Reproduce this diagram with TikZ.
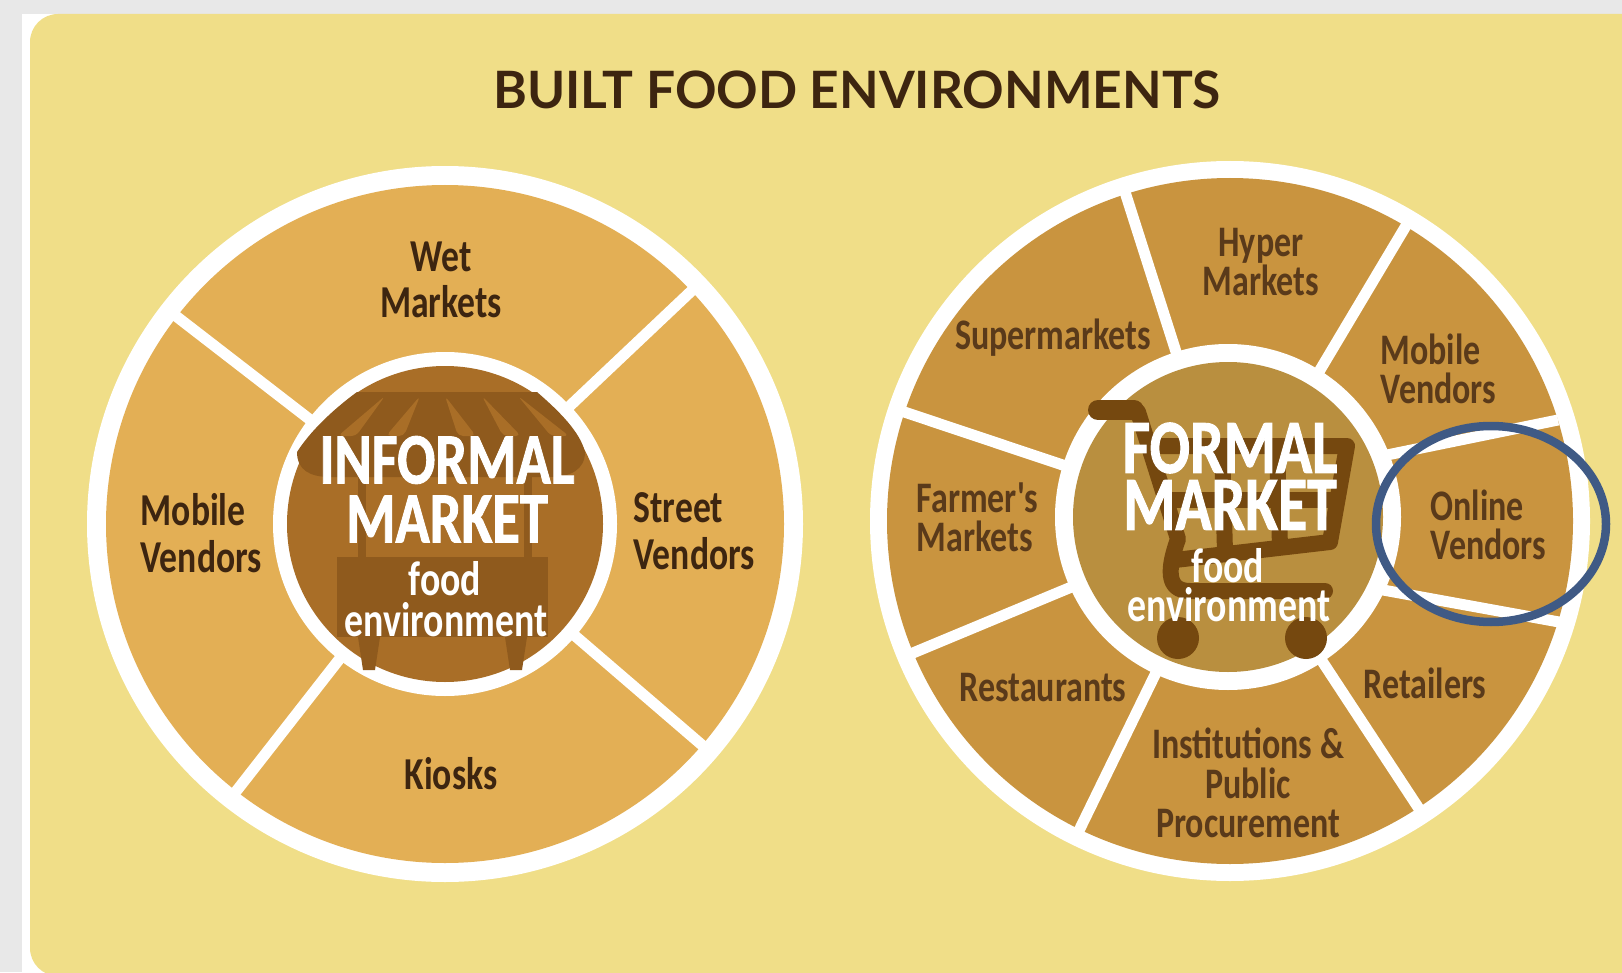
\documentclass[tikz,border=0pt]{standalone}
\usepackage{fontspec}
\usetikzlibrary{calc}
\newfontfamily\labelfont{Carlito}[FakeStretch=0.78]
\newfontfamily\bigfont{Carlito}[FakeStretch=0.78,BoldFeatures={FakeStretch=0.78,FakeBold=1.2}]
\newfontfamily\titlefont{Lato}
\definecolor{pagegray}{HTML}{E8E8E8}
\definecolor{panelyellow}{HTML}{F0DE88}
\definecolor{wedgeleft}{HTML}{E3AF55}
\definecolor{wedgeright}{HTML}{C9943F}
\definecolor{hubleft}{HTML}{A96E27}
\definecolor{stall}{HTML}{8F5A1D}
\definecolor{hubright}{HTML}{B98F3F}
\definecolor{cart}{HTML}{75480F}
\definecolor{inkleft}{HTML}{3D2510}
\definecolor{inkright}{HTML}{5A3A1A}
\definecolor{ringblue}{HTML}{3F5A85}
\tikzset{
    divider/.style={white, line width=0.11cm},
    cartbar/.style={cart, line width=0.16cm, line join=round},
    tongue/.style={hubleft, rounded corners=0.05cm},
    lefttext/.style={inkleft, align=center, inner sep=0pt, font=\labelfont\bfseries\fontsize{13}{13.2}\selectfont},
    righttext/.style={inkright, align=center, inner sep=0pt, font=\labelfont\bfseries\fontsize{12.4}{11.2}\selectfont},
    bigleft/.style={white, inner sep=0pt, font=\bigfont\bfseries\fontsize{20.6}{20}\selectfont},
    bigright/.style={white, inner sep=0pt, font=\bigfont\bfseries\fontsize{21.8}{20}\selectfont},
    smalltext/.style={white, inner sep=0pt, font=\labelfont\bfseries\fontsize{13.8}{13}\selectfont}
}
\begin{document}
\begin{tikzpicture}
    \clip[use as bounding box] (0,0) rectangle (16.22,9.72);
    \fill[pagegray] (0,0) rectangle (16.22,9.72);
    \fill[white] (0.22,0) rectangle (16.22,9.58);
    \fill[panelyellow, rounded corners=0.28cm] (0.30,-0.04) rectangle (16.6,9.58);
    \node[inkleft, inner sep=0pt, font=\titlefont\bfseries\fontsize{14.65}{15}\selectfont] at (8.57,8.82) (title) {BUILT FOOD ENVIRONMENTS};

    \coordinate (lc) at (4.45,4.48);
    \coordinate (rc) at (12.30,4.51);
    \coordinate (rh) at (12.28,4.55);

    % left wheel
    \fill[white] (lc) circle (3.58);
    \fill[wedgeleft] (lc) circle (3.39);
    \foreach \a in {43.4,-40.7,232,142.3}
        \draw[divider] ($(lc)+(\a:1.6)$) -- ($(lc)+(\a:3.5)$);
    \fill[white] (lc) circle (1.72);
    \fill[hubleft] (lc) circle (1.58);
    \fill[stall] (3.57,5.80) -- (5.37,5.80) .. controls (5.6,5.6) and (5.8,5.4) .. (5.85,5.2)
        .. controls (5.85,5.02) and (5.7,4.95) .. (5.5,4.95) -- (3.3,4.95)
        .. controls (3.1,4.95) and (2.97,5.02) .. (2.97,5.2) .. controls (3.1,5.4) and (3.3,5.6) .. cycle;
    \foreach \p/\q in {3.85/3.47,4.20/3.95,4.45/4.67,4.82/5.12,5.18/5.60}
        \fill[tongue] (\p,5.76) -- ($(\q,5.36)+(-0.09,0)$) -- ($(\q,5.36)+(0.09,0)$) -- cycle;
    \fill[stall] (3.58,4.95) rectangle (3.66,3.60);
    \fill[stall] (5.24,4.95) rectangle (5.32,3.60);
    \fill[stall] (3.37,3.35) rectangle (5.48,4.15);
    \fill[stall] (3.58,3.35) -- (3.80,3.35) -- (3.75,3.02) -- (3.63,3.02) -- cycle;
    \fill[stall] (5.05,3.35) -- (5.27,3.35) -- (5.22,3.02) -- (5.10,3.02) -- cycle;

    % right wheel
    \fill[white] (rc) circle (3.60);
    \fill[wedgeright] (rc) circle (3.43);
    \foreach \a in {107.7,59.2,-56.7,244,202.6,161.5}
        \draw[divider] ($(rc)+(\a:1.6)$) -- ($(rc)+(\a:3.5)$);
    \draw[divider] (13.87,5.17) -- (15.58,5.52);
    \draw[divider] (13.83,3.82) -- (15.59,3.50);
    \fill[white] (rh) circle (1.73);
    \fill[hubright] (rh) circle (1.55);

    % cart
    \draw[cart, line width=0.2cm, line cap=round] (10.98,5.62) -- (11.34,5.62);
    \draw[cartbar, line cap=round] (11.38,5.60) -- (11.78,4.33) .. controls (11.68,4.05) and (11.65,3.81) .. (11.9,3.81) -- (13.25,3.81);
    \draw[cartbar] (11.5,5.26) -- (13.47,5.26) -- (13.30,4.30) -- (11.75,4.12);
    \draw[cartbar] (12.22,5.26) -- (12.25,4.2);
    \draw[cartbar] (12.77,5.26) -- (12.80,4.25);
    \draw[cartbar] (11.62,4.72) -- (13.40,4.72);
    \fill[cart] (11.78,3.34) circle (0.21);
    \fill[cart] (13.06,3.34) circle (0.21);

    \node[lefttext] at (4.41,6.92) (wet) {Wet\\Markets};
    \node[lefttext, anchor=west, align=left] at (1.40,4.39) (mobileleft) {Mobile\\Vendors};
    \node[lefttext, anchor=west, align=left] at (6.33,4.41) (street) {Street\\Vendors};
    \node[lefttext] at (4.51,1.98) (kiosks) {Kiosks};
    \node[bigleft] at (4.47,5.12) (informal) {INFORMAL};
    \node[bigleft] at (4.47,4.53) (marketleft) {MARKET};
    \node[smalltext] at (4.45,3.93) (foodleft) {food};
    \node[smalltext] at (4.46,3.52) (envleft) {environment};

    \node[righttext] at (12.61,7.10) (hyper) {Hyper\\Markets};
    \node[righttext] at (10.53,6.34) (super) {Supermarkets};
    \node[righttext, anchor=west, align=left] at (13.80,6.03) (mobileright) {Mobile\\Vendors};
    \node[righttext, anchor=west, align=left] at (14.30,4.47) (online) {Online\\Vendors};
    \node[righttext, anchor=west, align=left] at (9.16,4.55) (farmer) {Farmer's\\Markets};
    \node[righttext] at (10.43,2.84) (rest) {Restaurants};
    \node[righttext] at (14.25,2.89) (retail) {Retailers};
    \node[righttext] at (12.48,1.89) (inst) {Institutions \&\\Public\\Procurement};
    \node[bigright] at (12.30,5.24) (formal) {FORMAL};
    \node[bigright] at (12.30,4.67) (marketright) {MARKET};
    \node[smalltext] at (12.28,4.06) (foodright) {food};
    \node[smalltext] at (12.29,3.67) (envright) {environment};

    \draw[ringblue, line width=0.085cm] (14.91,4.48) ellipse (1.15 and 0.98);
\end{tikzpicture}
\end{document}
